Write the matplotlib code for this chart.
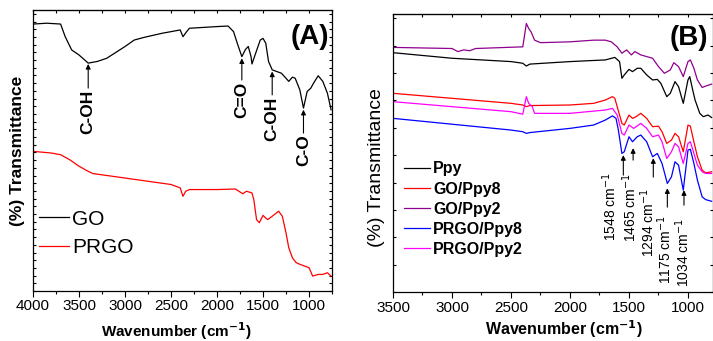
import matplotlib
matplotlib.use("Agg")
import matplotlib.pyplot as plt
from matplotlib.ticker import MultipleLocator

plt.rcParams['font.family'] = ['Liberation Sans', 'DejaVu Sans']

# ---------------- Panel A data ----------------
go_w = [4000, 3850, 3700, 3650, 3580, 3500, 3400, 3300, 3200, 3000, 2900, 2800, 2600, 2400, 2370, 2330,
        2300, 2000, 1880, 1820, 1780, 1730, 1690, 1660, 1630, 1620, 1580, 1530, 1500, 1470, 1440, 1400,
        1350, 1300, 1250, 1220, 1180, 1150, 1100, 1060, 1020, 980, 950, 900, 850, 800, 760]
go_t = [95.0, 95.3, 95.0, 90.5, 85.8, 84.0, 81.1, 81.7, 82.8, 87.0, 89.3, 90.2, 91.7, 92.9, 90.5, 92.3,
        93.5, 94.1, 94.3, 92.3, 88.2, 83.4, 86.0, 87.0, 83.4, 80.8, 84.6, 89.3, 89.9, 88.2, 81.7, 78.7,
        78.1, 77.5, 75.7, 74.6, 76.1, 75.7, 71.6, 65.1, 71.0, 72.2, 74.0, 76.6, 74.6, 70.4, 64.5]

prgo_w = [4000, 3800, 3700, 3600, 3500, 3400, 3350, 3000, 2500, 2400, 2370, 2340, 2300, 2000, 1800, 1720,
          1680, 1620, 1600, 1570, 1540, 1500, 1450, 1400, 1330, 1290, 1250, 1220, 1180, 1140, 1100, 1050,
          1000, 960, 900, 850, 800, 760]
prgo_t = [49.7, 49.1, 48.5, 46.7, 44.4, 42.6, 41.8, 40.2, 37.9, 36.7, 33.7, 35.5, 36.1, 36.1, 36.3, 34.6,
          35.5, 34.9, 32.5, 25.4, 24.3, 26.9, 25.4, 26.6, 28.4, 26.6, 20.7, 15.4, 11.8, 10.1, 9.5, 8.9,
          8.3, 5.3, 5.9, 5.9, 6.5, 5.3]

a_labels = ["C-OH", "C=O", "C-OH", "C-O"]
a_pos = [3400, 1730, 1400, 1060]
a_tip = [80.8, 82.8, 78.1, 64.5]
a_tail = [72.2, 75.1, 69.8, 56.2]

# ---------------- Panel B data ----------------
gop2_w = [3500, 3000, 2950, 2900, 2850, 2800, 2400, 2370, 2350, 2330, 2300, 2250, 2000, 1800, 1700, 1650,
          1600, 1560, 1520, 1480, 1450, 1400, 1350, 1300, 1250, 1200, 1150, 1120, 1080, 1040, 1000, 980,
          950, 920, 880, 850, 800]
gop2_t = [88.0, 87.6, 86.5, 87.1, 86.8, 87.6, 88.2, 96.6, 94.8, 93.6, 90.6, 89.7, 90.0, 90.6, 90.6, 90.0,
          88.2, 85.9, 87.1, 85.3, 86.5, 85.3, 84.7, 84.1, 81.1, 78.7, 79.9, 82.5, 81.1, 77.5, 82.9, 83.5,
          80.5, 76.3, 73.6, 74.1, 74.8]

ppy_w = [3500, 3000, 2500, 2400, 2370, 2340, 2000, 1700, 1620, 1580, 1560, 1540, 1500, 1470, 1430, 1400,
         1350, 1300, 1260, 1230, 1180, 1150, 1110, 1080, 1040, 1000, 985, 960, 940, 900, 870, 830, 800]
ppy_t = [86.1, 84.1, 82.9, 82.3, 81.3, 82.0, 82.9, 83.5, 84.4, 82.9, 76.9, 78.1, 80.1, 79.3, 80.5, 80.5,
         78.1, 76.3, 76.5, 75.1, 70.3, 71.5, 75.7, 73.9, 67.9, 76.3, 77.5, 72.7, 69.1, 64.3, 63.1, 63.7, 62.8]

gop8_w = [3500, 3000, 2500, 2400, 2370, 2340, 2000, 1800, 1700, 1640, 1620, 1600, 1560, 1540, 1500, 1470,
          1440, 1400, 1350, 1300, 1250, 1220, 1180, 1140, 1110, 1080, 1040, 1000, 980, 950, 920, 880, 850, 800]
gop8_t = [71.5, 69.7, 67.9, 67.3, 66.7, 67.1, 67.3, 67.9, 69.1, 70.3, 69.7, 66.7, 60.7, 60.1, 63.7, 62.5,
          63.1, 64.3, 62.5, 59.5, 59.7, 57.7, 53.5, 54.7, 57.1, 55.9, 50.5, 60.1, 59.7, 54.1, 48.7, 43.9,
          42.9, 43.3]

prp2_w = [3500, 3000, 2500, 2400, 2370, 2350, 2320, 2300, 2000, 1700, 1640, 1600, 1560, 1540, 1500, 1460,
          1420, 1400, 1350, 1300, 1250, 1220, 1180, 1140, 1110, 1080, 1040, 1000, 980, 950, 920, 880, 850, 800]
prp2_t = [68.5, 66.7, 64.9, 64.0, 70.3, 67.9, 66.7, 64.3, 64.3, 65.5, 66.1, 63.7, 57.1, 56.5, 60.1, 58.9,
          60.1, 60.7, 58.9, 55.9, 56.5, 54.1, 48.1, 50.5, 53.5, 52.3, 46.3, 53.5, 54.1, 49.9, 45.7, 43.3,
          42.7, 42.7]

prp8_w = [3500, 3000, 2500, 2400, 2370, 2340, 2000, 1800, 1700, 1640, 1610, 1590, 1560, 1540, 1500, 1470,
          1430, 1400, 1350, 1300, 1260, 1220, 1175, 1140, 1110, 1080, 1040, 1000, 980, 950, 920, 880, 850, 800]
prp8_t = [62.5, 60.4, 58.3, 57.7, 57.1, 57.4, 58.9, 60.1, 61.9, 63.4, 62.5, 58.3, 49.9, 50.5, 55.9, 54.1,
          55.9, 56.5, 54.1, 48.7, 49.9, 46.3, 39.1, 41.5, 46.9, 45.7, 36.7, 51.1, 51.4, 46.3, 40.3, 34.3,
          33.3, 32.7]

b_peaks = [1548, 1465, 1294, 1175, 1034]
b_tip = [49.3, 51.8, 48.2, 37.4, 36.7]
b_tail = [42.1, 47.5, 41.4, 30.6, 31.3]
b_text_x = [1665, 1492, 1340, 1198, 1046]
b_text_top = [43.2, 42.8, 37.4, 27.7, 26.6]

fig = plt.figure(figsize=(7.13, 3.41), dpi=100)
axA = fig.add_axes([33/713, 50/341, 299/713, 281/341])
axB = fig.add_axes([393/713, 48.7/341, 320/713, 278.3/341])

def style(ax, ystep):
    ax.xaxis.set_major_locator(MultipleLocator(500))
    ax.xaxis.set_minor_locator(MultipleLocator(250))
    ax.yaxis.set_major_locator(MultipleLocator(ystep))
    ax.tick_params(axis='x', which='major', direction='out', length=4, width=0.8,
                   labelsize=11, pad=2, top=False)
    ax.tick_params(axis='x', which='minor', direction='out', length=2.5, width=0.8, top=False)
    ax.tick_params(axis='y', which='major', direction='in', length=2.5, width=0.8,
                   left=True, right=True, labelleft=False)
    secx = ax.secondary_xaxis('top')
    secx.xaxis.set_major_locator(MultipleLocator(500))
    secx.xaxis.set_minor_locator(MultipleLocator(250))
    secx.tick_params(which='both', direction='in', length=2.5, width=0.8, labeltop=False)
    for s in ax.spines.values():
        s.set_linewidth(0.9)

# ---- Panel A ----
axA.plot(go_w, go_t, color='black', lw=0.9, label='GO')
axA.plot(prgo_w, prgo_t, color='red', lw=0.9, label='PRGO')
axA.set_xlim(4000, 750)
axA.set_ylim(0, 100)
style(axA, 100/36.5)
for lab, x, tip, tail in zip(a_labels, a_pos, a_tip, a_tail):
    axA.annotate('', xy=(x, tip), xytext=(x, tail),
                 arrowprops=dict(arrowstyle='-|>', color='black', lw=0.8, mutation_scale=7,
                                 shrinkA=0, shrinkB=0))
    axA.text(x, tail - 0.5, lab, rotation=90, ha='center', va='top', fontsize=12.5,
             fontweight='bold')
axA.text(0.99, 0.905, '(A)', transform=axA.transAxes, ha='right', va='center',
         fontsize=20, fontweight='bold')
axA.set_xlabel('Wavenumber (cm$^{\\mathbf{-1}}$)', fontsize=11, fontweight='bold')
axA.xaxis.set_label_coords(0.48, -0.105)
axA.set_ylabel('(%) Transmittance', fontsize=12.5, fontweight='bold')
axA.yaxis.set_label_coords(-0.027, 0.5)
axA.legend(loc='upper left', bbox_to_anchor=(0.02, 0.29), frameon=False, fontsize=15,
           handlelength=1.45, handletextpad=0.15, labelspacing=0.45, borderpad=0,
           borderaxespad=0)

# ---- Panel B ----
axB.plot(ppy_w, ppy_t, color='black', lw=0.9, label='Ppy')
axB.plot(gop8_w, gop8_t, color='red', lw=0.9, label='GO/Ppy8')
axB.plot(gop2_w, gop2_t, color='#8f008f', lw=0.9, label='GO/Ppy2')
axB.plot(prp8_w, prp8_t, color='blue', lw=0.9, label='PRGO/Ppy8')
axB.plot(prp2_w, prp2_t, color='#ff00ff', lw=0.9, label='PRGO/Ppy2')
axB.set_xlim(3500, 788)
axB.set_ylim(0, 100)
style(axB, 9.85)
for p, tip, tail, tx, tt in zip(b_peaks, b_tip, b_tail, b_text_x, b_text_top):
    axB.annotate('', xy=(p, tip), xytext=(p, tail),
                 arrowprops=dict(arrowstyle='-|>', color='black', lw=0.8, mutation_scale=7,
                                 shrinkA=0, shrinkB=0))
    axB.text(tx, tt, f'{p} cm$^{{-1}}$', rotation=90, ha='center', va='top', fontsize=10)
axB.text(0.985, 0.915, '(B)', transform=axB.transAxes, ha='right', va='center',
         fontsize=20, fontweight='bold')
axB.set_xlabel('Wavenumber (cm$^{\\mathbf{-1}}$)', fontsize=11.5, fontweight='bold')
axB.xaxis.set_label_coords(0.535, -0.095)
axB.set_ylabel('(%) Transmittance', fontsize=14)
axB.yaxis.set_label_coords(-0.025, 0.45)
axB.legend(loc='upper left', bbox_to_anchor=(0.035, 0.47), frameon=False,
           prop={'size': 11.5, 'weight': 'bold'},
           handlelength=1.6, handletextpad=0.2, labelspacing=0.32, borderpad=0,
           borderaxespad=0)

fig.savefig('out.png', dpi=100)
